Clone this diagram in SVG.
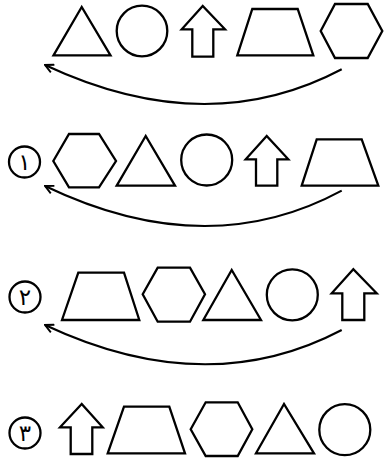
<svg xmlns="http://www.w3.org/2000/svg" width="384" height="459" viewBox="0 0 384 459">
<style>
.s{fill:none;stroke:#000;stroke-width:2.3;stroke-linejoin:miter}
.lc{fill:none;stroke:#000;stroke-width:2.1}
.t{font-family:"DejaVu Sans",sans-serif;font-size:23px;text-anchor:middle;fill:#000}
</style>
<defs>
<marker id="ah" viewBox="0 0 10 10" refX="9" refY="5" markerWidth="5" markerHeight="5" orient="auto" markerUnits="strokeWidth">
<path d="M1,1 L9,5 L1,9" fill="none" stroke="#000" stroke-width="1.8"/>
</marker>
</defs>
<rect width="384" height="459" fill="#fff"/>
<g id="row1">
<polygon id="r1-tri" class="s" points="81.7,7 53.5,55.3 110.5,55.3"/>
<circle id="r1-cir" class="s" cx="142" cy="31" r="25.3"/>
<polygon id="r1-arr" class="s" points="202.7,6 181.7,29.3 192.3,29.3 192.3,56.7 213.3,56.7 213.3,29.3 225,29.3"/>
<polygon id="r1-trap" class="s" points="252.3,9 297.7,9 313.3,55.3 237.3,55.3"/>
<polygon id="r1-hex" class="s" points="320.7,31 335,4 367.7,4 382.3,31 367.7,58 335,58"/>
</g>
<g id="row2">
<g id="label1"><circle class="s" cx="24.5" cy="162" r="15.5"/><text class="t" x="24.5" y="170">١</text></g>
<polygon id="r2-hex" class="s" points="53.3,161 69,134 99,134 116,161 99,187.3 69,187.3"/>
<polygon id="r2-tri" class="s" points="145.7,136 116.7,185.7 175,185.7"/>
<circle id="r2-cir" class="s" cx="206.7" cy="160" r="25.5"/>
<polygon id="r2-arr" class="s" points="266.7,136 245.7,159.3 256,159.3 256,185.7 277.3,185.7 277.3,159.3 288.3,159.3"/>
<polygon id="r2-trap" class="s" points="316.7,139.3 361.7,139.3 378.3,185.7 301.7,185.7"/>
</g>
<g id="row3">
<g id="label2"><circle class="s" cx="25" cy="297" r="15.5"/><text class="t" x="25" y="305">٢</text></g>
<polygon id="r3-trap" class="s" points="78.3,272.7 124,272.7 139.3,320 62,320"/>
<polygon id="r3-hex" class="s" points="142.7,294.3 157.7,267.7 190,267.7 205,294.3 190,321.7 157.7,321.7"/>
<polygon id="r3-tri" class="s" points="231.7,270 203.3,320 261,320"/>
<circle id="r3-cir" class="s" cx="292.3" cy="294.8" r="25.5"/>
<polygon id="r3-arr" class="s" points="353.3,269.3 331.7,293.3 342.3,293.3 342.3,320 364.3,320 364.3,293.3 376.7,293.3"/>
</g>
<g id="row4">
<g id="label3"><circle class="s" cx="25" cy="433" r="15.5"/><text class="t" x="25" y="441">٣</text></g>
<polygon id="r4-arr" class="s" points="81.7,404 60,427.3 70.7,427.3 70.7,454 92.3,454 92.3,427.3 102.7,427.3"/>
<polygon id="r4-trap" class="s" points="124,406.7 169.3,406.7 185,453.3 107.7,453.3"/>
<polygon id="r4-hex" class="s" points="190.7,429.3 205.7,402.3 237.7,402.3 252.3,429.3 237.7,456 205.7,456"/>
<polygon id="r4-tri" class="s" points="284,404 256,453.3 314,453.3"/>
<circle id="r4-cir" class="s" cx="344.8" cy="429.7" r="25.5"/>
</g>
<g id="connectors">
<path class="lc" d="M341.7,69.3 Q206.7,140.8 45,65" marker-end="url(#ah)"/>
<path class="lc" d="M341.7,190.7 Q206.7,263.7 45,186" marker-end="url(#ah)"/>
<path class="lc" d="M341.7,330 Q206.7,401 45,325" marker-end="url(#ah)"/>
</g>
</svg>
